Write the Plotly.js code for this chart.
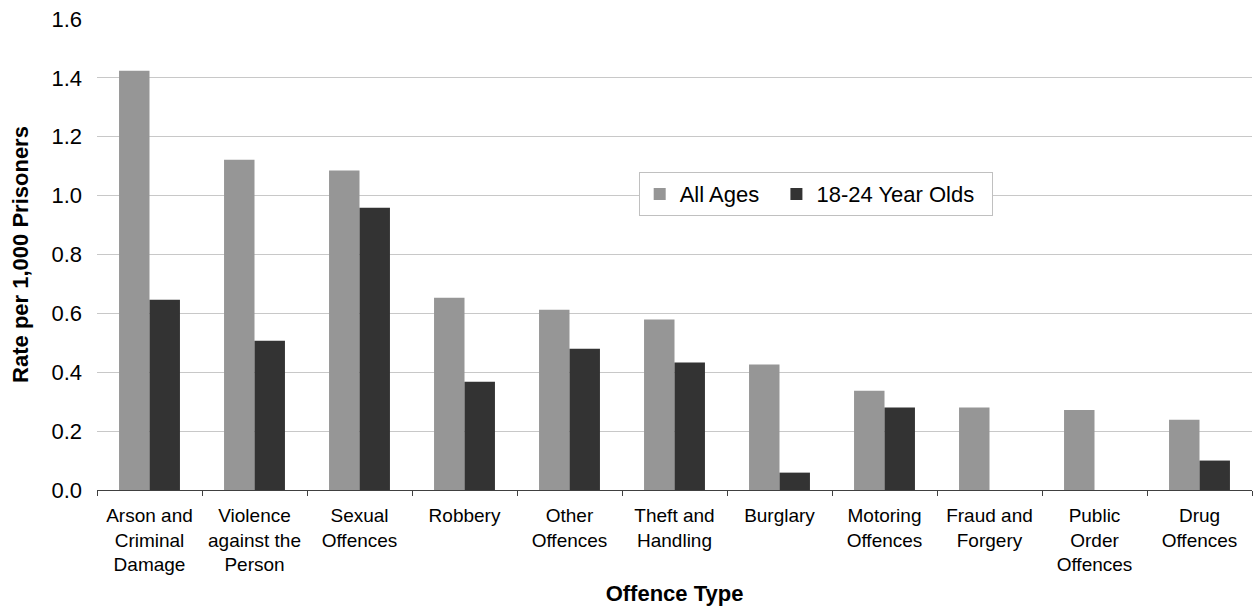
<!DOCTYPE html>
<html>
<head>
<meta charset="utf-8">
<script src="https://cdn.plot.ly/plotly-3.0.1.min.js"></script>
<style>html,body{margin:0;padding:0;background:#fff;}#chart{width:1254px;height:610px;}</style>
</head>
<body>
<div id="chart"></div>
<script>
const categories = [
  "Arson and<br>Criminal<br>Damage",
  "Violence<br>against the<br>Person",
  "Sexual<br>Offences",
  "Robbery",
  "Other<br>Offences",
  "Theft and<br>Handling",
  "Burglary",
  "Motoring<br>Offences",
  "Fraud and<br>Forgery",
  "Public<br>Order<br>Offences",
  "Drug<br>Offences"
];
const seriesNames = ["All Ages", "18-24 Year Olds"];
const allAges = [1.424, 1.122, 1.085, 0.653, 0.612, 0.579, 0.426, 0.337, 0.28, 0.272, 0.239];
const youngAdults = [0.646, 0.507, 0.959, 0.368, 0.48, 0.433, 0.059, 0.28, 0, 0, 0.1];
const yTicks = [0, 0.2, 0.4, 0.6, 0.8, 1.0, 1.2, 1.4, 1.6];
const yTickText = ["0.0", "0.2", "0.4", "0.6", "0.8", "1.0", "1.2", "1.4", "1.6"];

const font = "Liberation Sans, Arial, sans-serif";
const pad = "\u00a0\u00a0";
const traces = [
  {type: "bar", name: seriesNames[0] + pad, x: categories, y: allAges, marker: {color: "#969696"}},
  {type: "bar", name: seriesNames[1] + pad, x: categories, y: youngAdults, marker: {color: "#333333"}}
];
const layout = {
  width: 1254, height: 610,
  margin: {l: 97, r: 2, t: 19, b: 120},
  paper_bgcolor: "#fff", plot_bgcolor: "#fff",
  barmode: "group", bargap: 0.42, bargroupgap: 0,
  font: {family: font, color: "#000"},
  showlegend: true,
  legend: {
    orientation: "h", x: 0.469, y: 0.675, xanchor: "left", yanchor: "top",
    bgcolor: "#fff", bordercolor: "#c0c0c0", borderwidth: 1,
    font: {family: font, size: 22, color: "#000"},
    itemwidth: 30, traceorder: "normal"
  },
  xaxis: {
    type: "category", tickson: "boundaries", ticks: "outside", ticklen: 5,
    tickcolor: "#404040", showline: true, linecolor: "#404040", linewidth: 1,
    showgrid: false, tickfont: {family: font, size: 19, color: "#000"},
    ticklabelstandoff: 8,
    title: {text: "Offence Type", font: {family: font, size: 22, color: "#000", weight: "bold"}, standoff: 11},
    automargin: false
  },
  yaxis: {
    range: [0, 1.6], tickvals: yTicks, ticktext: yTickText,
    showgrid: true, gridcolor: "#c8c8c8", gridwidth: 1, zeroline: false,
    showline: false, ticks: "", tickfont: {family: font, size: 22, color: "#000"},
    ticklabelstandoff: 14,
    title: {text: "Rate per 1,000 Prisoners", font: {family: font, size: 22, color: "#000", weight: "bold"}, standoff: 16},
    automargin: false
  }
};
Plotly.newPlot("chart", traces, layout, {displayModeBar: false, staticPlot: true});
</script>
</body>
</html>
